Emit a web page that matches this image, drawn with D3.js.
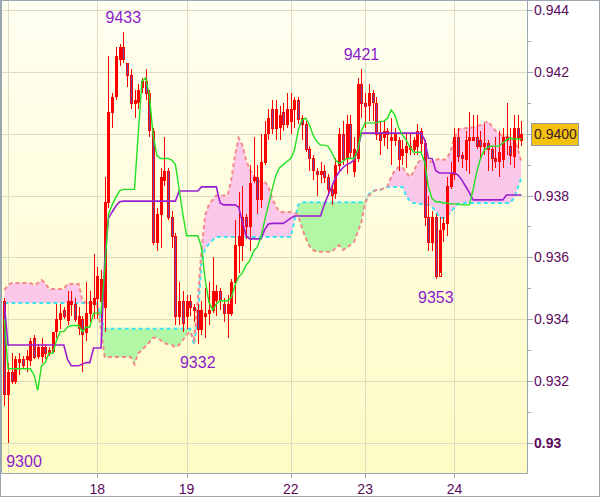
<!DOCTYPE html>
<html><head><meta charset="utf-8">
<script src="https://cdn.jsdelivr.net/npm/d3@7"></script>
<style>body{margin:0;background:#fff;} svg{display:block;font-family:Arial,"Liberation Sans",sans-serif;}</style>
</head><body><svg id="c" width="600" height="497"></svg>
<script>
// ---- data (prices in pips: price = pips / 10000) ----
const openPips = [9346,9316,9323,9320,9326,9327,9327,9327,9334,9328,9328,9331,9329,9330,9336,9340,9343,9340,9345,9345,9337,9340,9336,9342,9345,9347,9346,9344,9378,9407,9412,9424,9428,9423,9419,9410,9410,9415,9417,9413,9401,9365,9374,9385,9388,9373,9367,9341,9346,9341,9346,9344,9343,9337,9341,9342,9343,9346,9349,9345,9342,9342,9352,9364,9364,9373,9370,9385,9386,9379,9391,9400,9408,9402,9402,9407,9403,9404,9408,9411,9405,9403,9395,9392,9388,9387,9388,9386,9382,9381,9390,9400,9392,9403,9388,9392,9416,9410,9409,9413,9410,9400,9399,9401,9398,9398,9398,9393,9394,9395,9395,9396,9401,9397,9373,9365,9373,9354,9369,9371,9383,9387,9399,9393,9392,9398,9398,9399,9398,9396,9397,9395,9392,9391,9392,9398,9396,9393,9402,9398];
const highPips = [9347,9326,9329,9328,9329,9328,9330,9334,9335,9332,9334,9332,9331,9336,9345,9345,9344,9349,9349,9347,9344,9341,9352,9349,9361,9357,9356,9386,9425,9413,9428,9429,9433,9423,9421,9414,9416,9418,9421,9414,9402,9376,9389,9399,9389,9375,9368,9352,9349,9348,9348,9345,9345,9346,9350,9352,9360,9351,9350,9347,9348,9353,9372,9381,9383,9374,9390,9399,9390,9400,9404,9408,9411,9411,9409,9410,9413,9413,9412,9412,9406,9404,9396,9393,9389,9391,9390,9387,9383,9392,9402,9404,9406,9406,9399,9418,9421,9413,9416,9414,9412,9404,9404,9402,9405,9402,9399,9398,9400,9400,9399,9403,9402,9398,9380,9375,9374,9373,9373,9386,9391,9402,9402,9394,9401,9407,9406,9406,9401,9403,9398,9396,9399,9401,9402,9410,9402,9406,9406,9404];
const lowPips = [9312,9300,9319,9319,9322,9324,9323,9325,9327,9327,9326,9327,9328,9329,9334,9337,9340,9338,9341,9339,9335,9323,9333,9339,9340,9340,9339,9336,9376,9402,9411,9422,9423,9415,9408,9405,9408,9413,9411,9399,9364,9362,9363,9383,9372,9363,9338,9338,9336,9337,9341,9339,9332,9335,9334,9338,9342,9341,9343,9339,9334,9341,9345,9355,9359,9366,9362,9384,9374,9376,9390,9398,9400,9398,9398,9401,9402,9400,9402,9403,9398,9394,9388,9385,9380,9384,9384,9380,9377,9379,9388,9390,9387,9392,9386,9391,9405,9402,9404,9404,9398,9393,9396,9395,9390,9396,9388,9390,9389,9393,9393,9393,9394,9370,9362,9362,9353,9355,9365,9367,9382,9385,9391,9389,9388,9387,9398,9395,9392,9393,9388,9388,9389,9386,9389,9393,9390,9389,9395,9396];
const closePips = [9316,9323,9320,9327,9327,9325,9328,9333,9328,9331,9331,9329,9330,9336,9340,9342,9341,9346,9346,9340,9341,9335,9342,9346,9347,9354,9353,9378,9407,9412,9425,9428,9424,9419,9410,9411,9414,9417,9413,9401,9365,9374,9386,9388,9373,9367,9341,9346,9339,9346,9344,9343,9337,9343,9342,9343,9349,9349,9346,9342,9345,9352,9364,9367,9373,9370,9384,9386,9379,9391,9400,9405,9402,9408,9406,9403,9408,9408,9411,9405,9403,9395,9392,9388,9387,9388,9386,9382,9380,9390,9400,9392,9403,9394,9395,9416,9410,9409,9413,9410,9400,9398,9401,9400,9399,9400,9392,9395,9396,9396,9398,9401,9397,9373,9365,9373,9354,9369,9371,9383,9387,9399,9393,9392,9398,9399,9399,9396,9396,9397,9395,9392,9391,9394,9399,9399,9393,9402,9399,9400];
const tenkanPips = [9340,9324,9324,9324,9324,9324,9324,9324,9322,9317,9325,9326,9329,9329,9333,9336,9336,9337.5,9338,9338,9338,9336,9337.5,9337.5,9342,9342,9342,9356,9374,9377,9379.5,9381.5,9382,9382,9382,9382,9400,9417,9418,9412.5,9399.6,9393,9392,9392,9392,9391.5,9390,9382,9374,9367,9367,9367,9367,9363.4,9352.7,9345.6,9343,9345,9346,9346,9346,9347,9351,9353.7,9355,9357.5,9359,9362,9363.4,9366.6,9372,9377,9382,9386.6,9389,9390,9391,9392,9394.7,9401,9404.4,9405,9403,9399.5,9397.5,9396.3,9396.3,9396,9394,9391.5,9390.5,9391,9392,9392,9392,9394.7,9401,9403.5,9403.5,9403.5,9403.5,9404,9404,9405,9407.7,9406,9402,9399.6,9398,9395.7,9394,9394,9394,9390.8,9382.8,9379,9378,9378,9377.6,9377.6,9377.3,9377.3,9377.3,9377,9377,9377,9381.8,9387.6,9392,9394.7,9395.7,9396,9396,9396,9397,9398,9398.6,9398.3,9398.3,9398.3];
const kijunPips = [9345,9331.7,9331.7,9331.7,9331.7,9331.7,9331.7,9331.7,9331.7,9331.7,9331.7,9331.7,9331.7,9331.7,9331.7,9331.7,9331.7,9327,9325,9325,9325,9325.5,9326,9326,9330.7,9330.7,9330.7,9359,9372.7,9374.7,9376.6,9378,9378.2,9378.2,9378.2,9378.2,9378.2,9378.2,9378.2,9378.2,9378.2,9378.2,9378.2,9378.2,9378.2,9378.2,9378.2,9381.5,9381.5,9381.5,9381.5,9381.5,9381.5,9382.8,9382.8,9382.8,9382.8,9382.8,9377.6,9377,9377,9377,9377,9376.3,9371.5,9367,9366,9366,9366,9366,9369,9370.8,9371,9371,9371,9371,9371.8,9372.7,9373.4,9373.4,9373.4,9373.4,9373.4,9373.4,9373.4,9373.4,9377,9380,9382.8,9385.7,9387.6,9389,9390,9390.5,9391.5,9394.7,9400.2,9400.2,9400.2,9400.2,9400.2,9400.2,9400.2,9400.2,9400.2,9400.2,9400.2,9400.2,9400.2,9400.2,9400.2,9400.2,9400.2,9398,9392,9392,9388,9387.3,9387.3,9387.3,9387.3,9387.3,9386.6,9385,9383,9381,9378.6,9378.6,9378.6,9378.6,9378.6,9378.6,9378.6,9378.6,9378.6,9380.2,9380.2,9380.2,9380.2,9380.2];
const spanAPips = [9349.5,9351,9351.7,9351.7,9351.7,9351.7,9351.7,9351.7,9351,9351.7,9352.7,9351.7,9349.8,9349.8,9349.8,9349.8,9349.8,9351.4,9351.4,9351.4,9351.4,9346,9345.3,9345.3,9345.3,9344.5,9336.5,9327.8,9327.8,9327.8,9327.8,9327.8,9327.8,9327.8,9327.8,9325.5,9329,9330,9331.4,9332.6,9334,9334,9333.3,9332.3,9332,9331.7,9331,9331.7,9333.3,9335,9336,9333.3,9346,9362.4,9373.7,9377,9378.6,9380,9380,9380,9380,9385,9393,9398.6,9396.3,9391.5,9388.3,9386.6,9385,9384.4,9384.4,9383,9379,9376.6,9374.7,9374.7,9374.7,9374.7,9374.4,9373.7,9369.5,9366.3,9363.7,9362.4,9361.8,9361.8,9361.8,9361.8,9361.8,9363,9364,9362.4,9363,9364,9365,9368.2,9371.5,9377.6,9380,9381,9381.8,9381.8,9382.4,9383,9386,9388.3,9389.2,9389.2,9387.6,9386,9387.6,9390.5,9391.5,9392,9391.5,9390.8,9391.5,9392,9391.5,9392,9394.5,9398.6,9401.2,9401.8,9401.8,9402,9402,9402.5,9402.8,9403.5,9404,9402.5,9401,9400,9399.3,9399,9399,9398,9395.4,9390.8];
const spanBPips = [9345.3,9345.3,9345.3,9345.3,9345.3,9345.3,9345.3,9345.3,9345.3,9345.3,9345.3,9345.3,9345.3,9345.3,9345.3,9345.3,9345.3,9345.3,9345.3,9345.3,9345.3,9345.3,9345.3,9345.3,9345.3,9345.3,9340,9336.9,9336.9,9336.9,9336.9,9336.9,9336.9,9336.9,9336.9,9336.9,9336.9,9336.9,9336.9,9336.9,9336.9,9336.9,9336.9,9336.9,9336.9,9336.9,9336.9,9336.9,9336.9,9336.9,9336.9,9331.7,9339.8,9358.5,9363,9364.3,9365.6,9366.6,9366.6,9366.6,9366.6,9366.6,9366.6,9366.6,9366.6,9366.6,9366.6,9366.6,9366.6,9366.6,9366.6,9366.6,9366.6,9366.6,9366.6,9366.6,9366.6,9366.6,9372,9377,9377.8,9377.8,9377.8,9377.8,9377.8,9377.8,9377.8,9377.8,9377.8,9377.8,9377.8,9377.8,9377.8,9377.8,9377.8,9377.8,9377.8,9377.8,9380.5,9381.5,9381.8,9381.8,9382.4,9382.8,9382.8,9382.8,9382.8,9382.8,9380,9378.2,9377.6,9377.6,9377.3,9377,9377,9376.3,9374.7,9373,9372.7,9373.4,9374.7,9376,9377.3,9377.6,9377.6,9377.6,9377.6,9377.6,9377.6,9377.6,9377.6,9377.6,9377.6,9377.6,9377.6,9377.6,9377.6,9379.2,9382.4,9385.7];
const dayTickIndex = [1, 25, 49, 77, 97, 121];
const dayTickLabel = ["", "18", "19", "22", "23", "24"];
const priceTickValues = [0.930, 0.932, 0.934, 0.936, 0.938, 0.940, 0.942, 0.944];
const priceTickLabels = ["0.93", "0.932", "0.934", "0.936", "0.938", "0.940", "0.942", "0.944"];
const minorTickValues = [0.931, 0.933, 0.935, 0.937, 0.939, 0.941, 0.943];
const extremeIndex = [32, 96, 1, 52, 116];
const extremeType = ["high", "high", "low", "low", "low"];
const lastPriceLabel = "0.9400";

// ---- layout ----
const W = 600, H = 497;
const plot = {left: 1, right: 527, top: 0, bottom: 473};
const svg = d3.select("#c");
const toPrice = p => p / 10000;
const N = closePips.length;
const idx = d3.range(N);
const x = d3.scaleLinear().domain([0, N - 1]).range([4.3, 521.4]);
const y = d3.scaleLinear().domain([0.92903, 0.944323]).range([plot.bottom, plot.top]);
const lastPrice = toPrice(closePips[N - 1]);

const defs = svg.append("defs");
const grad = defs.append("linearGradient").attr("id", "bg").attr("x1", 0).attr("y1", 0).attr("x2", 0).attr("y2", 1);
grad.append("stop").attr("offset", "0%").attr("stop-color", "#fffff2");
grad.append("stop").attr("offset", "100%").attr("stop-color", "#fffbc4");

svg.append("rect").attr("width", W).attr("height", H).attr("fill", "#ffffff");
svg.append("rect").attr("x", plot.left).attr("y", plot.top).attr("width", plot.right - plot.left).attr("height", plot.bottom - plot.top).attr("fill", "url(#bg)");

defs.append("clipPath").attr("id", "plotclip").append("rect")
  .attr("x", plot.left).attr("y", plot.top).attr("width", plot.right - plot.left).attr("height", plot.bottom - plot.top);

// gridlines
const grid = svg.append("g");
grid.selectAll("line.h").data(priceTickValues).join("line")
  .attr("x1", plot.left).attr("x2", plot.right)
  .attr("y1", d => Math.round(y(d)) + 0.5).attr("y2", d => Math.round(y(d)) + 0.5)
  .attr("stroke", "#dcdcc0").attr("stroke-width", 1);
grid.selectAll("line.v").data(dayTickIndex).join("line")
  .attr("y1", plot.top).attr("y2", plot.bottom)
  .attr("x1", d => Math.round(x(d)) + 0.5).attr("x2", d => Math.round(x(d)) + 0.5)
  .attr("stroke", "#dcdcc0").attr("stroke-width", 1);

const main = svg.append("g").attr("clip-path", "url(#plotclip)");

// cloud
const yA = i => y(toPrice(spanAPips[i]));
const yB = i => y(toPrice(spanBPips[i]));
const areaTop = f => d3.area().x(i => x(i)).y0(f).y1(plot.top - 5);
const areaBot = f => d3.area().x(i => x(i)).y0(f).y1(plot.bottom + 5);
defs.append("clipPath").attr("id", "belowA").append("path").attr("d", areaBot(yA)(idx));
defs.append("clipPath").attr("id", "belowB").append("path").attr("d", areaBot(yB)(idx));
main.append("g").attr("clip-path", "url(#belowA)").append("path")
  .attr("d", areaTop(yB)(idx)).attr("fill", "#fcc8ea");
main.append("g").attr("clip-path", "url(#belowB)").append("path")
  .attr("d", areaTop(yA)(idx)).attr("fill", "#b2f7a6");
main.append("path").attr("d", d3.line().x(i => x(i)).y(yB)(idx))
  .attr("fill", "none").attr("stroke", "#3fe3f0").attr("stroke-width", 2).attr("stroke-dasharray", "4,3");
main.append("path").attr("d", d3.line().x(i => x(i)).y(yA)(idx))
  .attr("fill", "none").attr("stroke", "#f48a8a").attr("stroke-width", 2).attr("stroke-dasharray", "4,3");

// candles
const cx = i => Math.round(x(i)) + 0.5;
const cg = main.append("g");
cg.selectAll("line").data(idx).join("line")
  .attr("x1", cx).attr("x2", cx)
  .attr("y1", i => Math.round(y(toPrice(highPips[i])))).attr("y2", i => Math.round(y(toPrice(lowPips[i]))))
  .attr("stroke", "#ff0000").attr("stroke-width", 1);
cg.selectAll("rect").data(idx).join("rect")
  .attr("x", i => cx(i) - 1)
  .attr("width", 2)
  .attr("y", i => Math.round(y(toPrice(Math.max(openPips[i], closePips[i])))) + 0.5)
  .attr("height", i => Math.max(1, Math.round(Math.abs(y(toPrice(openPips[i])) - y(toPrice(closePips[i]))))))
  .attr("fill", i => closePips[i] < openPips[i] ? "#6e44a8" : "none")
  .attr("stroke", "#ff0000").attr("stroke-width", 1);

// lines
main.append("path").attr("d", d3.line().x(i => x(i)).y(i => y(toPrice(kijunPips[i])))(idx))
  .attr("fill", "none").attr("stroke", "#9b1fd0").attr("stroke-width", 1.6);
main.append("path").attr("d", d3.line().x(i => x(i)).y(i => y(toPrice(tenkanPips[i])))(idx))
  .attr("fill", "none").attr("stroke", "#22e022").attr("stroke-width", 1.4);

// extreme labels
svg.append("g").selectAll("text").data(extremeIndex).join("text")
  .attr("x", (d, k) => Math.max(24, x(d)))
  .attr("y", (d, k) => extremeType[k] === "high" ? y(toPrice(highPips[d])) - 9 : y(toPrice(lowPips[d])) + 24)
  .attr("text-anchor", "middle").attr("font-size", 16).attr("fill", "#8a1ccc")
  .text((d, k) => extremeType[k] === "high" ? highPips[d] : lowPips[d]);

// frame
svg.append("path")
  .attr("d", `M${plot.left + 0.5},${plot.top}V${plot.bottom + 0.5}H${plot.right + 0.5}V${plot.top}`)
  .attr("fill", "none").attr("stroke", "#9aa6b0").attr("stroke-width", 1);

// right axis (the tick label hidden under the last-price box is not drawn)
const ax = svg.append("g");
ax.selectAll("line.maj").data(priceTickValues).join("line")
  .attr("x1", plot.right).attr("x2", plot.right + 6)
  .attr("y1", d => Math.round(y(d)) + 0.5).attr("y2", d => Math.round(y(d)) + 0.5)
  .attr("stroke", "#9aa6b0");
ax.selectAll("line.min").data(minorTickValues).join("line")
  .attr("x1", plot.right).attr("x2", plot.right + 4)
  .attr("y1", d => Math.round(y(d)) + 0.5).attr("y2", d => Math.round(y(d)) + 0.5)
  .attr("stroke", "#9aa6b0");
const shownTicks = priceTickValues.map((v, k) => ({v, label: priceTickLabels[k], bold: k === 0}))
  .filter(t => Math.abs(y(t.v) - y(lastPrice)) > 14);
ax.selectAll("text").data(shownTicks).join("text")
  .attr("x", plot.right + 7).attr("y", t => y(t.v) + 5)
  .attr("font-size", 14).attr("fill", "#5c0a5c")
  .attr("font-weight", t => t.bold ? "bold" : "normal")
  .text(t => t.label);

// last price box
const lastY = y(lastPrice);
svg.append("rect").attr("x", plot.right + 4.5).attr("y", Math.round(lastY) - 10.5).attr("width", 47).attr("height", 22)
  .attr("fill", "#f4c20d").attr("stroke", "#8e9aa6");
svg.append("text").attr("x", plot.right + 7).attr("y", lastY + 5)
  .attr("font-size", 14).attr("fill", "#3a1a2a").text(lastPriceLabel);

// bottom axis
const bx = svg.append("g");
bx.selectAll("line").data(dayTickIndex.filter((d, k) => dayTickLabel[k] !== "")).join("line")
  .attr("x1", d => Math.round(x(d)) + 0.5).attr("x2", d => Math.round(x(d)) + 0.5)
  .attr("y1", plot.bottom).attr("y2", plot.bottom + 5).attr("stroke", "#9aa6b0");
bx.selectAll("text").data(dayTickIndex.filter((d, k) => dayTickLabel[k] !== "")).join("text")
  .attr("x", d => x(d)).attr("y", plot.bottom + 21)
  .attr("text-anchor", "middle").attr("font-size", 14).attr("fill", "#5c0a5c")
  .text(d => dayTickLabel[dayTickIndex.indexOf(d)]);

// outer border
svg.append("rect").attr("x", 0.5).attr("y", 0.5).attr("width", W - 1).attr("height", H - 1)
  .attr("fill", "none").attr("stroke", "#9aa6b0");
</script></body></html>
